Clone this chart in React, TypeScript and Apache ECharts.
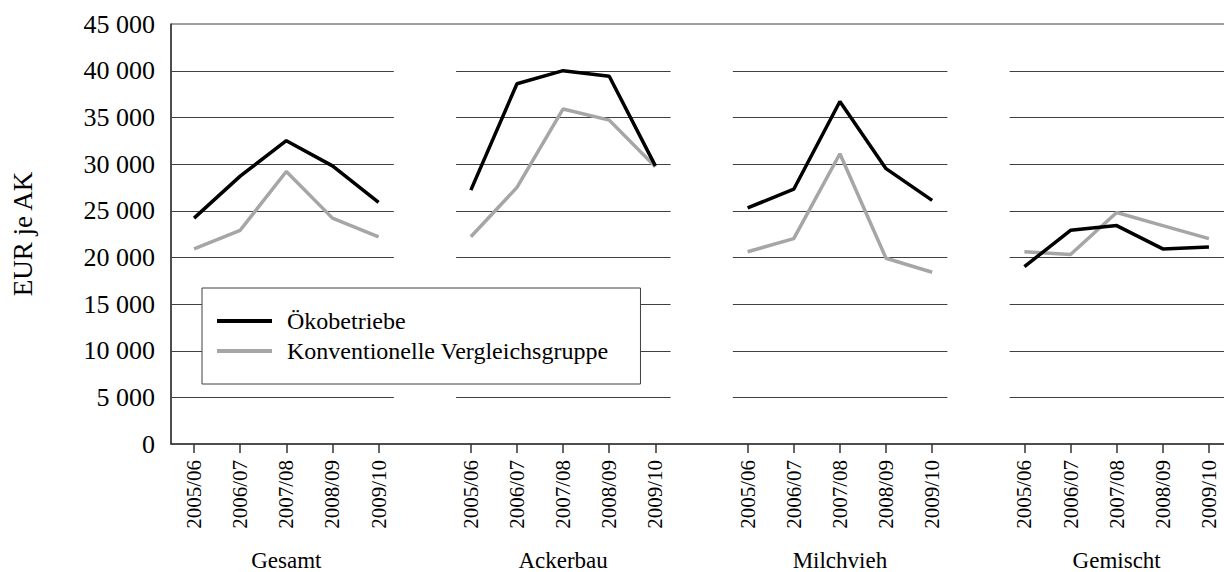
import React, { useEffect, useRef } from "react";
import * as echarts from "echarts";

const years = ["2005/06", "2006/07", "2007/08", "2008/09", "2009/10"];
const groups = ["Gesamt", "Ackerbau", "Milchvieh", "Gemischt"];
const seriesNames = ["Ökobetriebe", "Konventionelle Vergleichsgruppe"];

const oekoGesamt = [24200, 28700, 32500, 29800, 25900];
const konvGesamt = [20900, 22900, 29200, 24200, 22200];
const oekoAcker = [27200, 38600, 40000, 39400, 29800];
const konvAcker = [22200, 27500, 35900, 34700, 29700];
const oekoMilch = [25300, 27300, 36700, 29500, 26100];
const konvMilch = [20600, 22000, 31100, 19900, 18400];
const oekoGem = [19000, 22900, 23400, 20900, 21100];
const konvGem = [20600, 20300, 24800, 23400, 22000];

const yMin = 0;
const yMax = 45000;
const yStep = 5000;
const gridValues = [5000, 10000, 15000, 20000, 25000, 30000, 35000, 40000];

const FONT = "Liberation Serif";

function joinGroups(parts: number[][]): (number | null)[] {
  const out: (number | null)[] = [];
  parts.forEach((p, i) => {
    if (i > 0) out.push(null);
    p.forEach((v) => out.push(v));
  });
  return out;
}

const categories: string[] = [];
const groupLabelCats: string[] = [];
groups.forEach((g, gi) => {
  if (gi > 0) {
    categories.push("");
    groupLabelCats.push("");
  }
  years.forEach((y, yi) => {
    categories.push(y);
    groupLabelCats.push(yi === 2 ? g : "");
  });
});

const oekoData = joinGroups([oekoGesamt, oekoAcker, oekoMilch, oekoGem]);
const konvData = joinGroups([konvGesamt, konvAcker, konvMilch, konvGem]);

const gridSegs: number[][] = [];
groups.forEach((_, gi) => {
  gridValues.forEach((v) => {
    const start = gi * (years.length + 1);
    gridSegs.push([start, start + years.length - 1, v, gi]);
  });
});

function fmt(v: number): string {
  return String(v).replace(/\B(?=(\d{3})+(?!\d))/g, " ");
}

export default function App() {
  const ref = useRef<HTMLDivElement>(null);
  useEffect(() => {
    if (!ref.current) return;
    const chart = echarts.init(ref.current, undefined, { renderer: "svg" });
    chart.setOption({
      animation: false,
      backgroundColor: "#ffffff",
      textStyle: { fontFamily: FONT },
      grid: {
        left: 171,
        top: 24,
        width: 1061,
        height: 420,
        show: true,
        borderColor: "#404040",
        borderWidth: 1,
        backgroundColor: "transparent",
      },
      legend: {
        data: seriesNames,
        orient: "vertical",
        left: 202,
        top: 288,
        icon: "rect",
        itemWidth: 55,
        itemHeight: 4,
        itemGap: 6,
        padding: [21, 32, 21, 15],
        backgroundColor: "#ffffff",
        borderColor: "#404040",
        borderWidth: 1,
        selectedMode: false,
        textStyle: {
          fontFamily: FONT,
          fontSize: 24,
          color: "#000",
          padding: [0, 0, 0, 10],
        },
      },
      xAxis: [
        {
          type: "category",
          data: categories,
          boundaryGap: true,
          axisLine: { show: true, lineStyle: { color: "#333", width: 1.5 } },
          axisTick: {
            show: true,
            alignWithLabel: true,
            length: 9,
            interval: (index: number, value: string) => value !== "",
            lineStyle: { color: "#333", width: 1.5 },
          },
          axisLabel: {
            interval: 0,
            rotate: 90,
            margin: 16,
            fontFamily: FONT,
            fontSize: 21,
            color: "#000",
          },
          splitLine: { show: false },
        },
        {
          type: "category",
          data: groupLabelCats,
          position: "bottom",
          boundaryGap: true,
          axisLine: { show: false },
          axisTick: { show: false },
          axisLabel: {
            interval: 0,
            margin: 105,
            fontFamily: FONT,
            fontSize: 23,
            color: "#000",
          },
          splitLine: { show: false },
        },
      ],
      yAxis: {
        type: "value",
        min: yMin,
        max: yMax,
        interval: yStep,
        name: "EUR je AK",
        nameLocation: "middle",
        nameRotate: 90,
        nameGap: 135,
        nameTextStyle: { fontFamily: FONT, fontSize: 27, color: "#000" },
        axisLine: { show: true, lineStyle: { color: "#333", width: 1.5 } },
        axisTick: { show: false },
        splitLine: { show: false },
        axisLabel: {
          margin: 16,
          fontFamily: FONT,
          fontSize: 26,
          color: "#000",
          formatter: (v: number) => fmt(v),
        },
      },
      series: [
        {
          type: "custom",
          silent: true,
          z: 1,
          xAxisIndex: 0,
          encode: { x: [0, 1], y: 2 },
          data: gridSegs,
          renderItem: (params: any, api: any) => {
            const a = api.coord([api.value(0), api.value(2)]);
            const b = api.coord([api.value(1), api.value(2)]);
            const bw = api.size([1, 0])[0];
            const g = api.value(3);
            const x1 = g === 0 ? params.coordSys.x : a[0] - 0.32 * bw;
            const x2 = b[0] + 0.33 * bw;
            const y = Math.round(a[1]) + 0.5;
            return {
              type: "line",
              shape: { x1, y1: y, x2, y2: y },
              style: { stroke: "#404040", lineWidth: 1 },
            };
          },
        },
        {
          name: seriesNames[0],
          type: "line",
          xAxisIndex: 0,
          data: oekoData,
          symbol: "none",
          z: 3,
          color: "#000000",
          lineStyle: { color: "#000000", width: 3.5 },
        },
        {
          name: seriesNames[1],
          type: "line",
          xAxisIndex: 0,
          data: konvData,
          symbol: "none",
          z: 2,
          color: "#a6a6a6",
          lineStyle: { color: "#a6a6a6", width: 3.5 },
        },
      ],
    });
    return () => chart.dispose();
  }, []);
  return (
    <div
      style={{
        position: "absolute",
        left: 0,
        top: 0,
        width: 1224,
        height: 572,
        overflow: "hidden",
      }}
    >
      <div ref={ref} style={{ width: 1245, height: 572 }} />
    </div>
  );
}
